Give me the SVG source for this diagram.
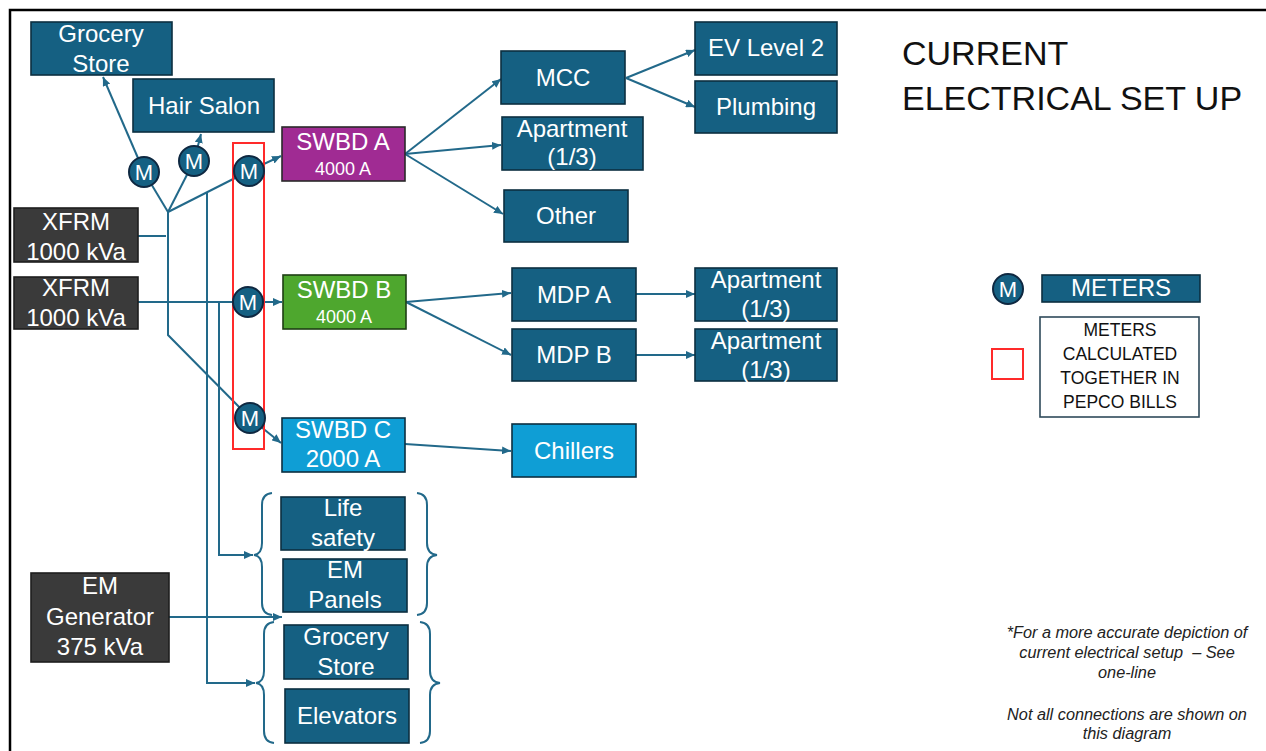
<svg xmlns="http://www.w3.org/2000/svg" width="1266" height="751" viewBox="0 0 1266 751">
  <defs>
    <marker id="arrow" markerUnits="userSpaceOnUse" markerWidth="10" markerHeight="8" refX="9" refY="4" orient="auto">
      <path d="M0,0 L9,4 L0,8 Z" fill="#22698a"/>
    </marker>
    <style>
      .box { fill: #156082; stroke: #0c2f40; stroke-width: 1.6; }
      .dark { fill: #3a3a3a; stroke: #1e1e1e; stroke-width: 1.6; }
      .purple { fill: #a02b93; stroke: #2a2a2a; stroke-width: 1.6; }
      .green { fill: #4ea72e; stroke: #1f3f14; stroke-width: 1.6; }
      .cyan { fill: #0f9ed5; stroke: #0c2f40; stroke-width: 1.6; }
      .t { font-family: "Liberation Sans", Arial, sans-serif; font-size: 24px; fill: #ffffff; text-anchor: middle; }
      .small { font-size: 18px; }
      .wire { fill: none; stroke: #22698a; stroke-width: 2; }
      .arr { marker-end: url(#arrow); }
      .meter { fill: #156082; stroke: #0e2841; stroke-width: 2; }
      .mt { font-family: "Liberation Sans", Arial, sans-serif; font-size: 22px; fill: #ffffff; text-anchor: middle; }
      .brace { fill: none; stroke: #22698a; stroke-width: 2; }
      .note { font-family: "Liberation Sans", Arial, sans-serif; font-size: 16.3px; font-style: italic; fill: #222222; text-anchor: middle; }
      .legend { font-family: "Liberation Sans", Arial, sans-serif; font-size: 17.5px; fill: #111111; text-anchor: middle; }
    </style>
  </defs>

  <rect width="1266" height="751" fill="#ffffff"/>
  <!-- page frame -->
  <path d="M10,751 V10 H1266" fill="none" stroke="#000000" stroke-width="2.5"/>

  <!-- connectors -->
  <g id="connectors">
    <path class="wire" d="M138,236 H166"/>
    <path class="wire" d="M168,212 V335 L250,418"/>
    <path class="wire" d="M168,212 L144,172"/>
    <path class="wire arr" d="M144,172 L103,77"/>
    <path class="wire" d="M168,212 L194,161"/>
    <path class="wire arr" d="M194,161 L201,134"/>
    <path class="wire" d="M168,212 L249,171"/>
    <path class="wire arr" d="M249,171 L281,156"/>
    <path class="wire arr" d="M207,192 V683 H255"/>
    <path class="wire" d="M138,302 H248"/>
    <path class="wire arr" d="M248,302 H282"/>
    <path class="wire arr" d="M219,302 V555 H253"/>
    <path class="wire arr" d="M250,418 L281,443"/>
    <path class="wire arr" d="M169,617 H282"/>
    <path class="wire arr" d="M405,154 L501,79"/>
    <path class="wire arr" d="M405,154 L501,145"/>
    <path class="wire arr" d="M405,154 L503,214"/>
    <path class="wire arr" d="M626,78 L695,50"/>
    <path class="wire arr" d="M626,78 L695,107"/>
    <path class="wire arr" d="M406,302 L511,293"/>
    <path class="wire arr" d="M406,302 L511,355"/>
    <path class="wire arr" d="M636,294 H695"/>
    <path class="wire arr" d="M636,355 H695"/>
    <path class="wire arr" d="M405,444 L511,451"/>
  </g>

  <!-- grouping brackets around the emergency loads -->
  <g id="brackets">
    <path class="brace" d="M272,493 Q262,494 262,505 V543 Q262,554 254,555 Q262,556 262,567 V603 Q262,614 272,615"/>
    <path class="brace" d="M417,493 Q427,494 427,505 V543 Q427,554 437,555 Q427,556 427,567 V603 Q427,614 417,615"/>
    <path class="brace" d="M274,622 Q264,623 264,634 V671 Q264,682 256,683 Q264,684 264,695 V731 Q264,742 274,743"/>
    <path class="brace" d="M420,622 Q430,623 430,634 V671 Q430,682 440,683 Q430,684 430,695 V731 Q430,742 420,743"/>
  </g>

  <!-- red outline: meters billed together -->
  <rect id="billing-group" x="233" y="143" width="31" height="306" fill="none" stroke="#ff2a2a" stroke-width="2"/>

  <!-- sources -->
  <g id="xfrm-1">
    <rect class="dark" x="14" y="208" width="124" height="54"/>
    <text class="t" x="76" y="230">XFRM</text>
    <text class="t" x="76" y="260">1000 kVa</text>
  </g>
  <g id="xfrm-2">
    <rect class="dark" x="14" y="277" width="124" height="52"/>
    <text class="t" x="76" y="296">XFRM</text>
    <text class="t" x="76" y="326">1000 kVa</text>
  </g>
  <g id="em-generator">
    <rect class="dark" x="31" y="573" width="138" height="89"/>
    <text class="t" x="100" y="594">EM</text>
    <text class="t" x="100" y="625">Generator</text>
    <text class="t" x="100" y="655">375 kVa</text>
  </g>

  <!-- tenant loads -->
  <g id="grocery-store-top">
    <rect class="box" x="31" y="22" width="141" height="53"/>
    <text class="t" x="101" y="42">Grocery</text>
    <text class="t" x="101" y="72">Store</text>
  </g>
  <g id="hair-salon">
    <rect class="box" x="133" y="79" width="141" height="53"/>
    <text class="t" x="204" y="114">Hair Salon</text>
  </g>

  <!-- meters -->
  <g id="meter-grocery">
    <circle class="meter" cx="144" cy="172" r="15"/>
    <text class="mt" x="144" y="180">M</text>
  </g>
  <g id="meter-salon">
    <circle class="meter" cx="194" cy="161" r="15"/>
    <text class="mt" x="194" y="169">M</text>
  </g>
  <g id="meter-a">
    <circle class="meter" cx="249" cy="171" r="15"/>
    <text class="mt" x="249" y="179">M</text>
  </g>
  <g id="meter-b">
    <circle class="meter" cx="248" cy="302" r="15"/>
    <text class="mt" x="248" y="310">M</text>
  </g>
  <g id="meter-c">
    <circle class="meter" cx="250" cy="418" r="15"/>
    <text class="mt" x="250" y="426">M</text>
  </g>

  <!-- switchboards -->
  <g id="swbd-a">
    <rect class="purple" x="282" y="127" width="123" height="54"/>
    <text class="t" x="343" y="150">SWBD A</text>
    <text class="t small" x="343" y="175">4000 A</text>
  </g>
  <g id="swbd-b">
    <rect class="green" x="283" y="275" width="123" height="54"/>
    <text class="t" x="344" y="298">SWBD B</text>
    <text class="t small" x="344" y="323">4000 A</text>
  </g>
  <g id="swbd-c">
    <rect class="cyan" x="282" y="418" width="123" height="54"/>
    <text class="t" x="343" y="438">SWBD C</text>
    <text class="t" x="343" y="467">2000 A</text>
  </g>

  <!-- SWBD A branch -->
  <g id="mcc">
    <rect class="box" x="501" y="51" width="124" height="53"/>
    <text class="t" x="563" y="86">MCC</text>
  </g>
  <g id="apartment-a">
    <rect class="box" x="502" y="117" width="141" height="53"/>
    <text class="t" x="572" y="137">Apartment</text>
    <text class="t" x="572" y="165">(1/3)</text>
  </g>
  <g id="other">
    <rect class="box" x="504" y="190" width="124" height="52"/>
    <text class="t" x="566" y="224">Other</text>
  </g>
  <g id="ev-level-2">
    <rect class="box" x="695" y="22" width="142" height="53"/>
    <text class="t" x="766" y="56">EV Level 2</text>
  </g>
  <g id="plumbing">
    <rect class="box" x="695" y="81" width="142" height="52"/>
    <text class="t" x="766" y="115">Plumbing</text>
  </g>

  <!-- SWBD B branch -->
  <g id="mdp-a">
    <rect class="box" x="512" y="268" width="124" height="53"/>
    <text class="t" x="574" y="303">MDP A</text>
  </g>
  <g id="mdp-b">
    <rect class="box" x="512" y="329" width="124" height="52"/>
    <text class="t" x="574" y="363">MDP B</text>
  </g>
  <g id="apartment-b">
    <rect class="box" x="695" y="268" width="142" height="53"/>
    <text class="t" x="766" y="288">Apartment</text>
    <text class="t" x="766" y="317">(1/3)</text>
  </g>
  <g id="apartment-c">
    <rect class="box" x="695" y="329" width="142" height="52"/>
    <text class="t" x="766" y="349">Apartment</text>
    <text class="t" x="766" y="378">(1/3)</text>
  </g>

  <!-- SWBD C branch -->
  <g id="chillers">
    <rect class="cyan" x="512" y="424" width="124" height="53"/>
    <text class="t" x="574" y="459">Chillers</text>
  </g>

  <!-- emergency loads -->
  <g id="life-safety">
    <rect class="box" x="281" y="497" width="124" height="53"/>
    <text class="t" x="343" y="516">Life</text>
    <text class="t" x="343" y="546">safety</text>
  </g>
  <g id="em-panels">
    <rect class="box" x="283" y="559" width="124" height="53"/>
    <text class="t" x="345" y="578">EM</text>
    <text class="t" x="345" y="608">Panels</text>
  </g>
  <g id="grocery-store-em">
    <rect class="box" x="284" y="625" width="124" height="54"/>
    <text class="t" x="346" y="645">Grocery</text>
    <text class="t" x="346" y="675">Store</text>
  </g>
  <g id="elevators">
    <rect class="box" x="285" y="689" width="124" height="54"/>
    <text class="t" x="347" y="724">Elevators</text>
  </g>

  <!-- title -->
  <g id="title" font-family="'Liberation Sans', Arial, sans-serif" font-size="34" fill="#111111">
    <text x="902" y="65">CURRENT</text>
    <text x="902" y="110">ELECTRICAL SET UP</text>
  </g>

  <!-- legend -->
  <g id="legend">
    <circle class="meter" cx="1008" cy="289" r="15"/>
    <text class="mt" x="1008" y="297">M</text>
    <rect class="box" x="1042" y="275" width="158" height="27"/>
    <text class="t" x="1121" y="296" font-size="21">METERS</text>
    <rect x="992" y="349" width="31" height="30" fill="none" stroke="#ff2a2a" stroke-width="2"/>
    <rect x="1040" y="317" width="159" height="100" fill="#ffffff" stroke="#2f4a5a" stroke-width="1.6"/>
    <text class="legend" x="1120" y="336">METERS</text>
    <text class="legend" x="1120" y="360">CALCULATED</text>
    <text class="legend" x="1120" y="384">TOGETHER IN</text>
    <text class="legend" x="1120" y="408">PEPCO BILLS</text>
  </g>

  <!-- notes -->
  <g id="notes">
    <text class="note" x="1127" y="638">*For a more accurate depiction of</text>
    <text class="note" x="1127" y="658" xml:space="preserve">current electrical setup  – See</text>
    <text class="note" x="1127" y="678">one-line</text>
    <text class="note" x="1127" y="720">Not all connections are shown on</text>
    <text class="note" x="1127" y="739">this diagram</text>
  </g>
</svg>
